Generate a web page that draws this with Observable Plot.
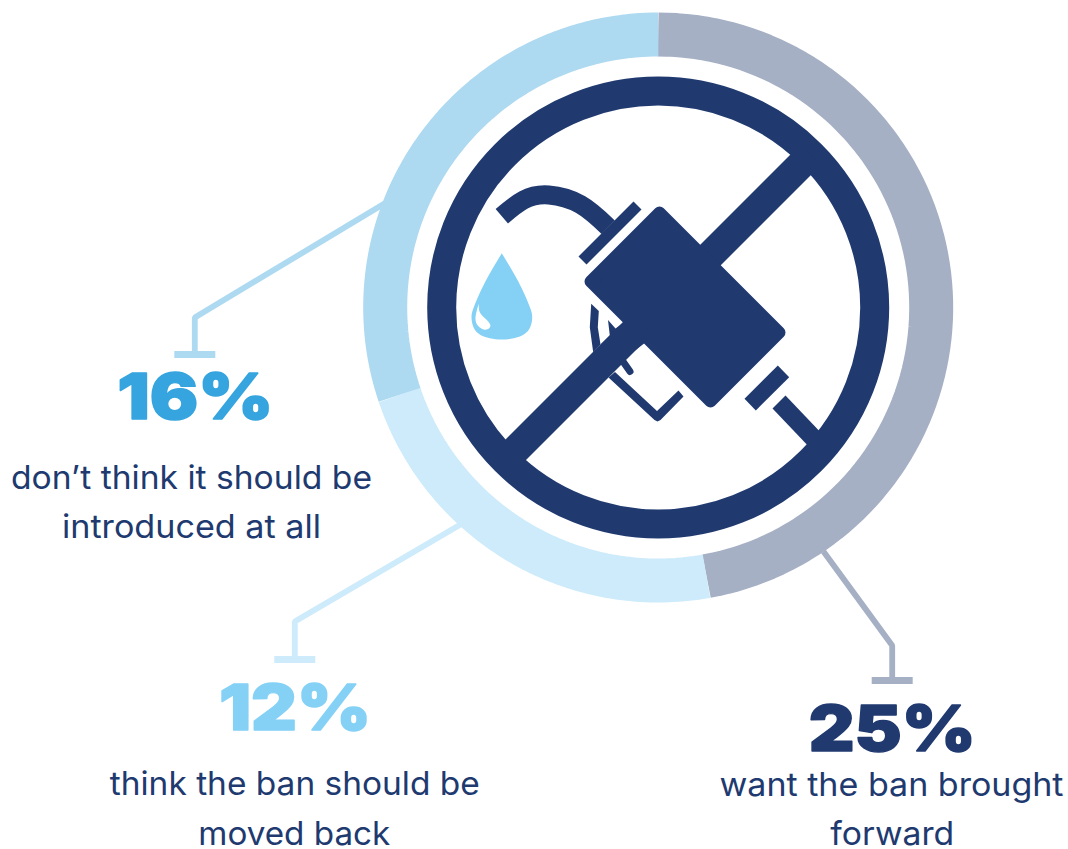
<!DOCTYPE html>
<html>
<head>
<meta charset="utf-8">
<style>html,body{margin:0;padding:0;background:#fff}svg{display:block}</style>
<script src="https://cdn.jsdelivr.net/npm/d3@7"></script>
<script src="https://cdn.jsdelivr.net/npm/@observablehq/plot@0.6"></script>
</head>
<body>
<div id="chart"></div>
<script>
// Survey shares, clockwise from twelve o'clock
const answers = ["want the ban brought forward", "think the ban should be moved back", "don’t think it should be introduced at all"];
const shares = [25, 12, 16];
const ringColors = ["#A6B0C5", "#CDEBFB", "#ADD9F1"];
const figureColors = ["#203A70", "#85D1F6", "#35A4DF"];
const navy = "#203A70";
const dropBlue = "#85D1F6";

// Caption lines and where each one sits
const captionLines = [
  ["want the ban brought", "forward"],
  ["think the ban should be", "moved back"],
  ["don’t think it should be", "introduced at all"]
];
const captionX = [[891, 891.7], [294.3, 293.8], [191, 191]];
const captionBaselines = [[795, 844], [794, 844], [488, 537]];
const captionWidths = [[344, 124], [370, 192], [361, 259]];
const figureX = [891.8, 294.5, 194.8];
const figureBaseline = [750, 729, 418];
const figureWidths = [167, 152, 156];

// Leader lines: ring edge, knee, foot
const leaders = [
  [[823, 551], [891.7, 645], [891.7, 680]],
  [[460, 524], [294.3, 621], [294.3, 659]],
  [[384, 203], [194.3, 317], [194.3, 354]]
];

const cx = 657.7, cy = 307;
const ringR = 273, ringW = 44;

// Ring segments take their angles from the shares
const arcs = d3.pie().sort(null)(shares);
const arcPoints = (a) => d3.range(0, 1.0001, 1 / 90).map((t) => {
  const ang = a.startAngle + (a.endAngle - a.startAngle) * t;
  return [cx + ringR * Math.sin(ang), cy - ringR * Math.cos(ang)];
});

// Pump nozzle pictogram outlines
const slashBar = [[800, 144], [820, 165], [516, 469], [495, 449]];
const nozzleBody = [[659, 212], [779, 332], [710, 401], [590, 281], [659, 212]];
const hose = [[501.3, 215.7], [523.3, 199.3], [548.3, 194.5], [580, 204], [607.7, 226.7]];
const upperPlate = [[633, 201], [641, 209], [586, 264], [578, 256]];
const lowerPlate = [[777.3, 365], [788.7, 376.7], [755.3, 410], [744, 398.3]];
const spout = [[785, 395], [825, 437], [812, 450], [772, 408]];
const guard = [[608, 377], [654, 419.5], [657, 421], [660, 419.5], [683, 396], [678, 390], [656.5, 410.5], [614.5, 371.5]];
const trigger = [[622.5, 361], [629.5, 371]];
const gripArc = [[590.7, 303.3], [589.3, 326.7], [592.7, 351.7], [600, 344], [597.3, 326.7], [598.3, 310.5]];
const gripFill = [[607.5, 319.5], [615, 328], [622.3, 322.7], [632, 318], [650, 338], [632, 352], [600, 344], [609.3, 335]];
const drop = [[501.3, 252.7], [509.3, 266], [517.7, 280.7], [525, 296], [530, 308.3], [531.7, 316.7], [529.7, 326.7], [523.3, 334], [513.3, 337.7], [501.3, 339], [489.3, 337.7], [479.3, 334], [473, 326.7], [471, 316.7], [472.7, 308.3], [477.7, 296], [485, 280.7], [493.3, 266], [501.3, 252.7]];
const dropShine = [[478.3, 303.3], [479.3, 311.7], [485, 318.3], [489.7, 324], [488.3, 328], [483.3, 329], [477.3, 325], [475, 316.7], [478.3, 303.3]];

const px = (d) => d[0], py = (d) => d[1];
const solid = (pts, fill, curve = "linear", extra = {}) =>
  Plot.line(pts, {x: px, y: py, fill, stroke: "none", curve, ...extra});
const stroked = (pts, stroke, strokeWidth, extra = {}) =>
  Plot.line(pts, {x: px, y: py, stroke, strokeWidth, strokeLinecap: "butt", strokeLinejoin: "miter", ...extra});

// Text mark whose rendered width is fitted to a given length
const fitted = (str, x, y, width, fontSize, fontWeight, fill, extra = {}) =>
  Plot.text([str], {
    x: () => x, y: () => y, text: (d) => d,
    fontFamily: "Inter, sans-serif", fontSize, fontWeight, fill,
    textAnchor: "middle", lineAnchor: "bottom", ...extra,
    render(index, scales, values, dims, context, next) {
      const g = next(index, scales, values, dims, context);
      g.querySelectorAll("text").forEach((t) => {
        t.setAttribute("textLength", width);
        t.setAttribute("lengthAdjust", "spacingAndGlyphs");
      });
      return g;
    }
  });

const marks = [
  // Leaders sit beneath the ring so they end cleanly at its edge
  ...leaders.flatMap((pts, i) => [
    stroked(pts, ringColors[i], 5.8),
    stroked([[pts[2][0] - 20.5, pts[2][1]], [pts[2][0] + 20.5, pts[2][1]]], ringColors[i], 7)
  ]),
  ...arcs.map((a, i) => stroked(arcPoints(a), ringColors[i], ringW)),

  // No-entry roundel
  Plot.dot([[cx, cy]], {x: px, y: py, r: 216.5, stroke: navy, strokeWidth: 29, fill: "none"}),
  solid(slashBar, navy),

  // Nozzle
  stroked(hose, navy, 19, {curve: "natural"}),
  solid(upperPlate, navy),
  solid(lowerPlate, navy),
  solid(spout, navy),
  solid(gripArc, navy),
  solid(gripFill, navy),
  solid(guard, navy),
  stroked(trigger, navy, 7, {strokeLinecap: "round"}),
  solid(nozzleBody, navy, "linear", {stroke: navy, strokeWidth: 12, strokeLinejoin: "round"}),

  // Fuel drop
  solid(drop, dropBlue, "natural"),
  solid(dropShine, "#fff", "natural"),

  // Figures and captions
  ...shares.flatMap((v, i) => [
    fitted(`${v}%`, figureX[i], figureBaseline[i], figureWidths[i], 63, 900, figureColors[i], {stroke: figureColors[i], strokeWidth: 1.4}),
    ...captionLines[i].map((line, j) =>
      fitted(line, captionX[i][j], captionBaselines[i][j], captionWidths[i][j], 32.5, 400, navy))
  ])
];

const chart = Plot.plot({
  width: 1068,
  height: 849,
  margin: 0,
  x: {type: "identity", axis: null},
  y: {type: "identity", axis: null},
  style: {background: "#fff"},
  ariaLabel: answers.join("; "),
  marks
});
document.getElementById("chart").append(chart);
</script>
</body>
</html>
